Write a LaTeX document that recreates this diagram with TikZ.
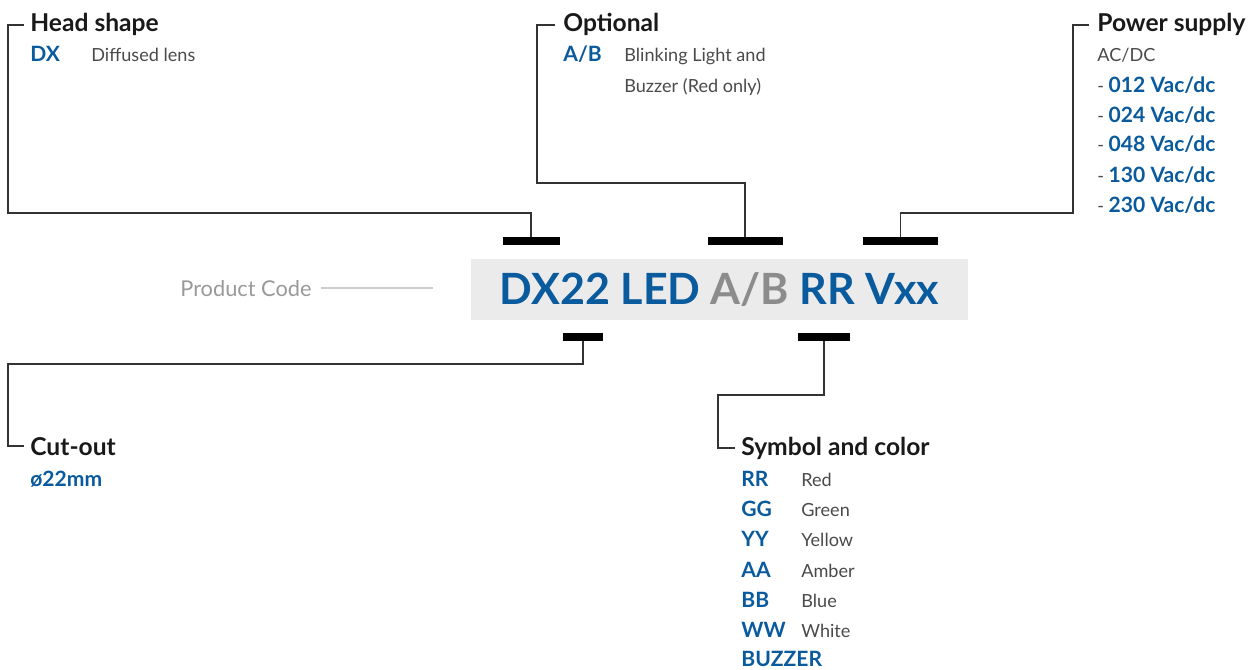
\documentclass[tikz,border=0pt]{standalone}
\usepackage{fontspec}
\setmainfont{Lato}
\usepackage{xcolor}
\usetikzlibrary{positioning}
\definecolor{codeblue}{HTML}{0A5A9E}
\definecolor{codegray}{HTML}{8C8C8C}
\definecolor{textgray}{HTML}{4A4A4A}
\definecolor{boxgray}{HTML}{EBEBEB}
\definecolor{linegray}{HTML}{333333}

\begin{document}
\begin{tikzpicture}[
    x=0.02cm, y=-0.02cm,
    head/.style={font=\fontsize{14}{16}\selectfont\bfseries, text=black!90, anchor=base west, inner sep=0pt},
    code/.style={font=\fontsize{12}{14}\selectfont\bfseries, text=codeblue, anchor=base west, inner sep=0pt},
    desc/.style={font=\fontsize{10.3}{14}\selectfont, text=textgray, anchor=base west, inner sep=0pt},
    volt/.style={font=\fontsize{10.3}{14}\selectfont, text=textgray, anchor=base west, inner sep=0pt},
    bar/.style={fill=black, inner sep=0pt, minimum height=0.15cm, minimum width=#1},
    conn/.style={draw=linegray, line width=0.75pt}
]
    \useasboundingbox (0,0) rectangle (1250,669);

    % Product code box
    \node[fill=boxgray, minimum width=9.94cm, minimum height=1.22cm, inner sep=0pt,
          font=\fontsize{24.5}{28}\selectfont\bfseries] (code) at (719.5,289.5)
          {\textcolor{codeblue}{DX22 LED} \textcolor{codegray}{A/B} \textcolor{codeblue}{RR Vxx}};
    \node[font=\fontsize{12.4}{15}\selectfont, text=black!40, anchor=base west, inner sep=0pt] (pclabel) at (180,296) {Product Code};
    \coordinate (pcend) at (433,290);
    \draw[draw=black!20, line width=1.1pt] (pclabel.east) ++(9,0) -- (pclabel.east -| pcend);

    % Bars
    \node[bar=1.14cm] (b1) at (531,241) {};
    \node[bar=1.5cm]  (b2) at (745,241) {};
    \node[bar=1.5cm]  (b3) at (900.5,241) {};
    \node[bar=0.8cm]  (b4) at (583,337) {};
    \node[bar=1.04cm] (b5) at (824,337) {};

    % Head shape
    \node[head] (headshape) at (30,32) {Head shape};
    \node[code] (dx) at (30,62) {DX};
    \node[desc] (dxdesc) at (91,62) {Diffused lens};

    % Optional
    \node[head] (optional) at (563,32) {Optional};
    \node[code] (ab) at (563,62) {A/B};
    \node[desc] (abdesc1) at (624,62) {Blinking Light and};
    \node[desc] (abdesc2) at (624,92) {Buzzer (Red only)};

    % Power supply
    \node[head] (power) at (1097,32) {Power supply};
    \node[desc] (acdc) at (1097,62) {AC/DC};
    \node[volt] (v012) at (1097,92)  {- {\fontsize{12}{14}\selectfont\bfseries\color{codeblue}012 Vac/dc}};
    \node[volt] (v024) at (1097,122) {- {\fontsize{12}{14}\selectfont\bfseries\color{codeblue}024 Vac/dc}};
    \node[volt] (v048) at (1097,152) {- {\fontsize{12}{14}\selectfont\bfseries\color{codeblue}048 Vac/dc}};
    \node[volt] (v130) at (1097,182) {- {\fontsize{12}{14}\selectfont\bfseries\color{codeblue}130 Vac/dc}};
    \node[volt] (v230) at (1097,212) {- {\fontsize{12}{14}\selectfont\bfseries\color{codeblue}230 Vac/dc}};

    % Cut-out
    \node[head] (cutout) at (30,455) {Cut-out};
    \node[code] (dia) at (30,486) {ø22mm};

    % Symbol and color
    \node[head] (symbol) at (741,455) {Symbol and color};
    \node[code] (rr) at (741,486) {RR};
    \node[desc] (rrdesc) at (801,486) {Red};
    \node[code] (gg) at (741,516) {GG};
    \node[desc] (ggdesc) at (801,516) {Green};
    \node[code] (yy) at (741,546) {YY};
    \node[desc] (yydesc) at (801,546) {Yellow};
    \node[code] (aa) at (741,577) {AA};
    \node[desc] (aadesc) at (801,577) {Amber};
    \node[code] (bb) at (741,607) {BB};
    \node[desc] (bbdesc) at (801,607) {Blue};
    \node[code] (ww) at (741,637) {WW};
    \node[desc] (wwdesc) at (801,637) {White};
    \node[code] (buzzer) at (741,666) {BUZZER};

    % Connectors
    \draw[conn] (b1.north) |- (8,213) |- ([xshift=-0.12cm]headshape.west);
    \draw[conn] (b2.north) |- (537,183) |- ([xshift=-0.16cm]optional.west);
    \draw[conn] (b3.north) |- (1073,213) |- ([xshift=-0.16cm]power.west);
    \draw[conn] (b4.south) |- (8,364) |- ([xshift=-0.12cm]cutout.west);
    \draw[conn] (b5.south) |- (718,395) |- ([xshift=-0.12cm]symbol.west);
\end{tikzpicture}
\end{document}
